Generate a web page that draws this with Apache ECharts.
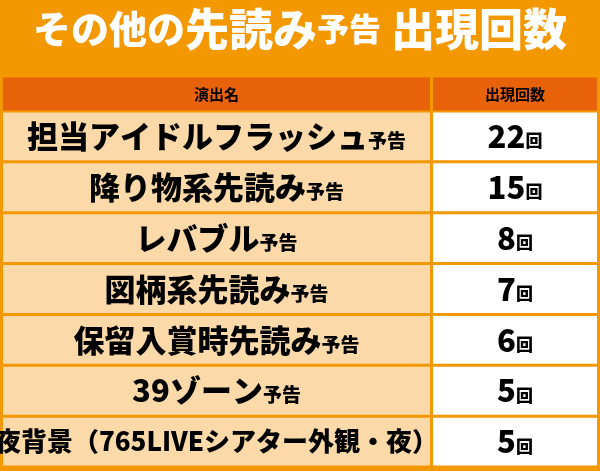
<!DOCTYPE html><html><head><meta charset="utf-8">
<script src="https://cdn.jsdelivr.net/npm/echarts@6/dist/echarts.min.js"></script>
<style>html,body{margin:0;padding:0;background:#F39800}#c{width:600px;height:471px}</style></head><body><div id="c"></div>
<script>
const headers = ["演出名", "出現回数"];
const names = ["担当アイドルフラッシュ","降り物系先読み","レバブル","図柄系先読み","保留入賞時先読み","39ゾーン","夜背景（765LIVEシアター外観・夜）"];
const suffixes = ["予告","予告","予告","予告","予告","予告",""];
const counts = [22, 15, 8, 7, 6, 5, 5];
const F = '"Noto Sans CJK JP", sans-serif';
const bodyData = [], headData = [[0, 0], [1, 0]];
names.forEach((r, i) => { bodyData.push([0, i]); bodyData.push([1, i]); });
const rich = {
  h: { fontFamily: F, fontWeight: 'bold', fontSize: 15, color: '#fff' },
  n: { fontFamily: F, fontWeight: 900, fontSize: 31, color: '#231815' },
  m: { fontFamily: F, fontWeight: 900, fontSize: 26, color: '#231815' },
  s: { fontFamily: F, fontWeight: 900, fontSize: 19, color: '#231815', padding: [9, 0, 0, 0] },
  k: { fontFamily: F, fontWeight: 900, fontSize: 17, color: '#231815', padding: [9, 0, 0, 0] }
};
function cell(params, api, isHead) {
  const col = api.value(0), row = api.value(1);
  const cs = params.coordSys;
  const split = cs.x + 427;
  const yc = api.coord([0, row])[1];
  const h = api.size([0, 1])[1];
  const gap = 3;
  const x0 = col === 0 ? cs.x : split + gap;
  const x1 = col === 0 ? split : cs.x + cs.width;
  const y0 = yc - h / 2 + gap / 2, hh = h - gap;
  let fill, text;
  if (isHead) { fill = '#E8620A'; text = '{h|' + headers[col] + '}'; }
  else if (col === 0) {
    fill = '#FCD9A9';
    const big = names[row].length > 15 ? 'm' : 'n';
    text = '{' + big + '|' + names[row] + '}' + (suffixes[row] ? '{s|' + suffixes[row] + '}' : '');
  } else { fill = '#FFFFFF'; text = '{n|' + counts[row] + '}{k|回}'; }
  return { type: 'group', children: [
    { type: 'rect', shape: { x: x0, y: y0, width: x1 - x0, height: hh }, style: { fill: fill } },
    { type: 'text', x: (x0 + x1) / 2, y: y0 + hh / 2, style: { text: text, rich: rich, align: 'center', verticalAlign: 'middle' } }
  ] };
}
const chart = echarts.init(document.getElementById('c'));
chart.setOption({
  backgroundColor: '#F39800',
  animation: false,
  title: {
    text: '{a|その他の}{b|先読み}{c|予告}{b| 出現回数}',
    left: 'center', top: 2,
    textStyle: { rich: {
      a: { fontFamily: F, fontWeight: 900, fontSize: 38, color: '#fff' },
      b: { fontFamily: F, fontWeight: 900, fontSize: 44, color: '#fff' },
      c: { fontFamily: F, fontWeight: 900, fontSize: 32, color: '#fff' } } }
  },
  grid: [
    { left: 3, right: 3, top: 76, height: 36 },
    { left: 3, right: 3, top: 111, bottom: 4 }
  ],
  xAxis: [
    { gridIndex: 0, type: 'value', min: 0, max: 1, show: false },
    { gridIndex: 1, type: 'value', min: 0, max: 1, show: false }
  ],
  yAxis: [
    { gridIndex: 0, type: 'category', data: ['header'], show: false },
    { gridIndex: 1, type: 'category', data: names, inverse: true, show: false }
  ],
  series: [
    { type: 'custom', xAxisIndex: 0, yAxisIndex: 0, data: headData, renderItem: (p, a) => cell(p, a, true) },
    { type: 'custom', xAxisIndex: 1, yAxisIndex: 1, data: bodyData, renderItem: (p, a) => cell(p, a, false) }
  ]
});
</script></body></html>
